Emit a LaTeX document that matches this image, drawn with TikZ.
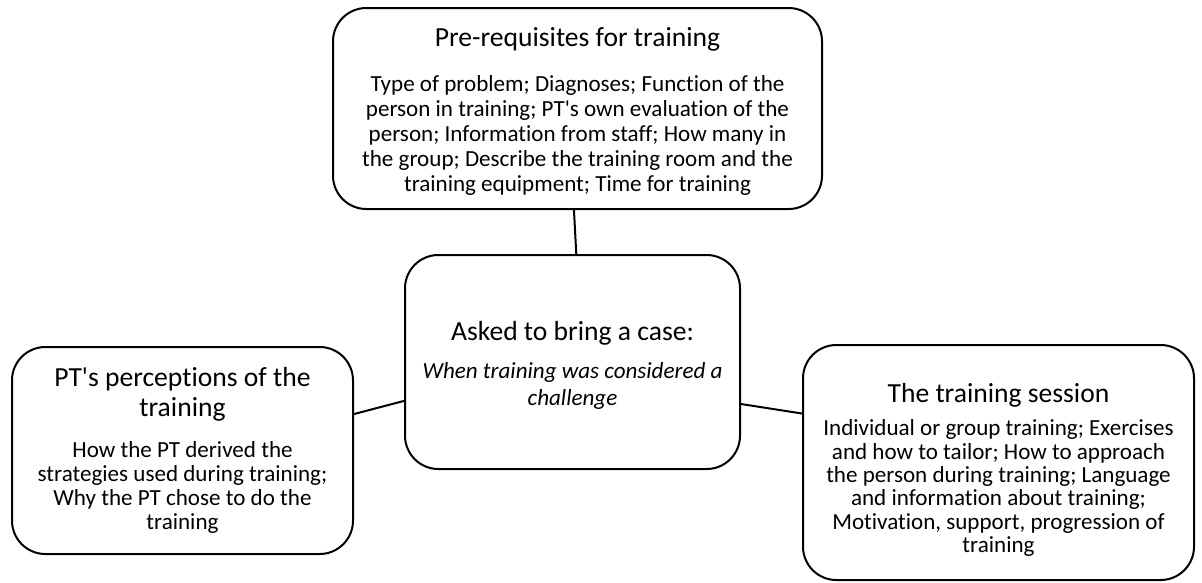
\documentclass[tikz,border=0pt]{standalone}
\usepackage{fontspec}
\setmainfont{Carlito}[Ligatures={NoCommon}]
\usetikzlibrary{positioning}

\newcommand{\boxhead}{\fontsize{20.7}{22.5}\selectfont}
\newcommand{\boxbody}{\fontsize{17.3}{18.5}\selectfont}

\begin{document}
\begin{tikzpicture}[x=0.75pt,y=-0.75pt,
  topic/.style={draw, line width=1.5pt, rounded corners=25pt, align=center, inner sep=0pt},
  link/.style={line width=1.5pt}]
\useasboundingbox (0,0) rectangle (1202,582);

\node[topic, minimum width=366.75pt, minimum height=150.75pt,
      font=\fontsize{17.3}{18.75}\selectfont] (prereq) at (577.5,108.5)
  {{\boxhead\rule{0pt}{18pt}Pre-requisites for training}\\[15pt]
   Type of problem; Diagnoses; Function of the\\
   person in training; PT\textquotesingle s own evaluation of the\\
   person; Information from staff; How many in\\
   the group; Describe the training room and the\\
   training equipment; Time for training};

\node[topic, minimum width=251.25pt, minimum height=160.5pt,
      font=\fontsize{17.3}{20.25}\selectfont\itshape] (case) at (572.5,362)
  {{\upshape\boxhead\rule{0pt}{19pt}Asked to bring a case:}\\[8.25pt]
   When training was considered a\\
   challenge};

\node[topic, minimum width=255.75pt, minimum height=155.25pt,
      font=\fontsize{17.3}{18}\selectfont] (views) at (182.5,450.5)
  {{\boxhead PT\textquotesingle s perceptions of the}\\[4.5pt]
   {\boxhead training}\\[12.75pt]
   How the PT derived the\\
   strategies used during training;\\
   Why the PT chose to do the\\
   training};

\node[topic, minimum width=293.25pt, minimum height=176.25pt,
      font=\fontsize{17.3}{17.5}\selectfont] (session) at (998.5,462.5)
  {{\boxhead\rule{0pt}{25.5pt}The training session}\\[7.25pt]
   Individual or group training; Exercises\\
   and how to tailor; How to approach\\
   the person during training; Language\\
   and information about training;\\
   Motivation, support, progression of\\
   training};

\draw[link] (prereq.268.6) -- (case.88.7);
\draw[link] (views.12.7) -- (case.193.1);
\draw[link] (case.346.6) -- (session.166.9);
\end{tikzpicture}
\end{document}
